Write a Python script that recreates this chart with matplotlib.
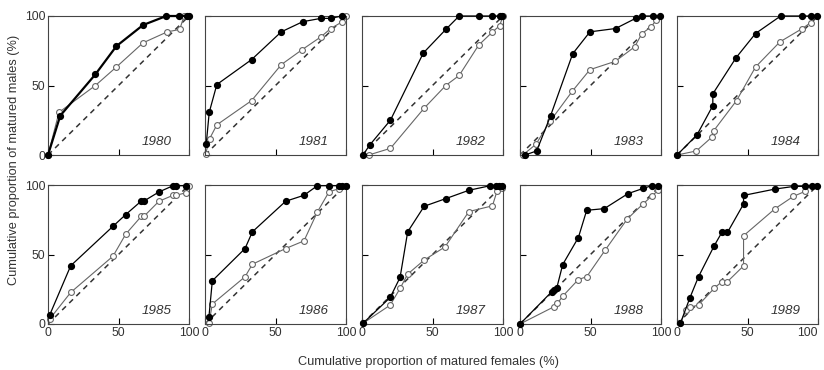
import matplotlib.pyplot as plt

plt.rcParams['font.family'] = ['Liberation Sans', 'DejaVu Sans']

years = ['1980', '1981', '1982', '1983', '1984', '1985', '1986', '1987', '1988', '1989']

# filled circles (x = females %, y = males %)
filled_x = [
    [0, 8.7, 33.6, 48.5, 67.4, 83.9, 92.7, 98.8, 100],
    [0.9, 3, 8.4, 33, 54.1, 69.3, 82.2, 89.2, 97],
    [0.7, 5.5, 20.2, 43.5, 59.4, 68.9, 83.1, 92, 97.6, 99.3],
    [3.5, 11.8, 21.7, 37.4, 49.6, 67.8, 82, 86.5, 94.3, 99],
    [0, 14.2, 25.4, 25.4, 41.9, 55.7, 73.5, 88.9, 94.8, 99.5],
    [1.2, 16.1, 46.1, 55.1, 66.2, 68.1, 78.7, 88.7, 91, 98.1],
    [2.8, 5.2, 28.4, 33.6, 57.2, 70.2, 79.7, 87.9, 95, 97.5, 99.8],
    [0.7, 20, 27, 32.4, 44.1, 59.4, 75.8, 91, 95, 97.5, 99.3],
    [0, 22.5, 24.1, 26, 30.3, 41.4, 47.3, 59.8, 76.6, 87.5, 93.4, 98.1],
    [2.4, 9.2, 15.3, 26.4, 31.8, 35.8, 47.2, 47.2, 69.6, 83, 90.8, 96, 99.5],
]
filled_y = [
    [0, 28.3, 58, 78.3, 93.5, 100, 100, 100, 100],
    [8.2, 30.7, 50.7, 68.6, 88.6, 95.9, 98.3, 98.3, 100],
    [0, 7.2, 25.1, 73.4, 90.3, 100, 100, 100, 100, 100],
    [0, 2.9, 28.3, 72.9, 88.6, 91, 98.3, 100, 100, 100],
    [0, 14.5, 35.5, 44, 70, 87.4, 100, 100, 100, 100],
    [6.5, 41.9, 70.3, 78.7, 88.5, 88.5, 95, 99.5, 99.5, 99.5],
    [5.3, 31.1, 54.3, 66.3, 88.3, 92.6, 99.5, 99.5, 99.5, 99.5, 99.5],
    [0.5, 19.1, 33.5, 66.3, 84.7, 90.2, 96.2, 99.5, 99.5, 99.5, 99.5],
    [0, 23.2, 24.4, 25.6, 42.8, 62.2, 81.8, 83, 93.8, 97.6, 99.5, 99.5],
    [0.5, 19, 34.1, 56.3, 65.9, 65.9, 86.3, 92.5, 97.1, 99, 99, 99, 99],
]

# open circles
open_x = [
    [0, 7.8, 33.6, 48.5, 67.4, 84.6, 93.4, 96.5, 99],
    [0.5, 3.3, 8.4, 33, 54.1, 68.9, 82.2, 89.2, 97.4, 99.8],
    [4.75, 20.2, 44, 59.4, 68.9, 82.7, 92.2, 97.6, 100],
    [2, 11.3, 21.3, 37.1, 49.6, 67.6, 81.3, 86.5, 93.1, 96.6],
    [0, 13.7, 24.9, 26, 42.2, 55.7, 73, 88.9, 94.8],
    [1.2, 16.1, 46.1, 55.1, 66.2, 68.1, 78.7, 88.7, 91, 98.1, 100],
    [2.8, 5.2, 28.4, 33.6, 57.2, 70.2, 79.7, 87.9, 95, 99.8],
    [0.7, 20, 27, 32.4, 44.1, 58.9, 75.8, 92.5, 95.8, 99.3],
    [0, 24.1, 26.5, 30.3, 41.4, 47.3, 60.3, 76.1, 87.5, 93.4, 98.1],
    [2.4, 6.4, 9.2, 15.3, 26.4, 31.8, 35.8, 47.2, 47.2, 69.6, 82.5, 90.8],
]
open_y = [
    [0, 30.7, 50, 63.3, 80.7, 88.6, 90.3, 100, 100],
    [1, 11.8, 21.7, 39.1, 65, 75.8, 85, 91, 95.9, 100],
    [0, 4.8, 33.6, 50, 57.2, 79, 88.2, 93, 100],
    [0, 7.7, 24.2, 45.9, 61.4, 67.4, 77.8, 87.4, 92.3, 97.1],
    [0, 2.9, 13, 17.4, 39.1, 63.3, 81.4, 91, 95.2],
    [3.6, 22.7, 48.8, 64.6, 77.5, 77.5, 88.3, 92.6, 92.6, 94.5, 99],
    [0.5, 14.4, 34, 43, 54.3, 59.8, 80.6, 95, 97.4, 99.5],
    [0.5, 13.6, 25.6, 35.9, 46, 55.5, 80.9, 85, 95.7, 98.1],
    [0, 12.4, 14.8, 20, 32, 34, 53, 75.6, 86.6, 92, 96.2],
    [0.5, 10.1, 12, 13.7, 25.7, 30.5, 30.5, 41.8, 63.5, 83, 91.8, 95.4],
]

fig = plt.figure(figsize=(8.24, 3.70), dpi=100)
W, H = 824, 370
lefts = [48, 205, 362, 520, 677]
tops = [16, 185]
pw, ph = 141, 139

for i, yr in enumerate(years):
    r, c = divmod(i, 5)
    ax = fig.add_axes([lefts[c] / W, (H - tops[r] - ph) / H, pw / W, ph / H])
    ax.plot([0, 100], [0, 100], ls=(0, (3.5, 3)), color='#333333', lw=1.1, zorder=1)
    ax.plot(open_x[i], open_y[i], '-o', color='#666666', lw=0.8, ms=4.2,
            mfc='white', mec='#666666', mew=0.8, clip_on=False, zorder=2)
    ax.plot(filled_x[i], filled_y[i], '-o', color='black',
            lw=1.6 if i == 0 else 0.9, ms=4.2, mfc='black', mec='black',
            clip_on=False, zorder=3)
    ax.set_xlim(0, 100)
    ax.set_ylim(0, 100)
    ax.set_xticks([0, 50, 100])
    ax.set_yticks([0, 50, 100])
    ax.tick_params(direction='in', length=4, width=0.8, labelsize=8.8,
                   labelcolor='#333333', pad=2)
    if c != 0:
        ax.set_yticklabels([])
    if r == 0:
        ax.set_xticklabels([])
    if i == len(years) - 1:
        # keep the rightmost "100" inside the figure
        ax.get_xticklabels()[-1].set_horizontalalignment('right')
    for s in ax.spines.values():
        s.set_linewidth(0.8)
        s.set_color('#444444')
    ax.text(0.88, 0.05, yr, transform=ax.transAxes, ha='right', va='bottom',
            fontsize=9.6, style='italic', color='#333333')

fig.text(14 / W, 1 - 160 / H, 'Cumulative proportion of matured males (%)', rotation=90,
         ha='center', va='center', fontsize=9.2, color='#333333')
fig.text(428 / W, 1 - 362 / H, 'Cumulative proportion of matured females (%)',
         ha='center', va='center', fontsize=9.2, color='#333333')

fig.savefig('out.png', dpi=100)
